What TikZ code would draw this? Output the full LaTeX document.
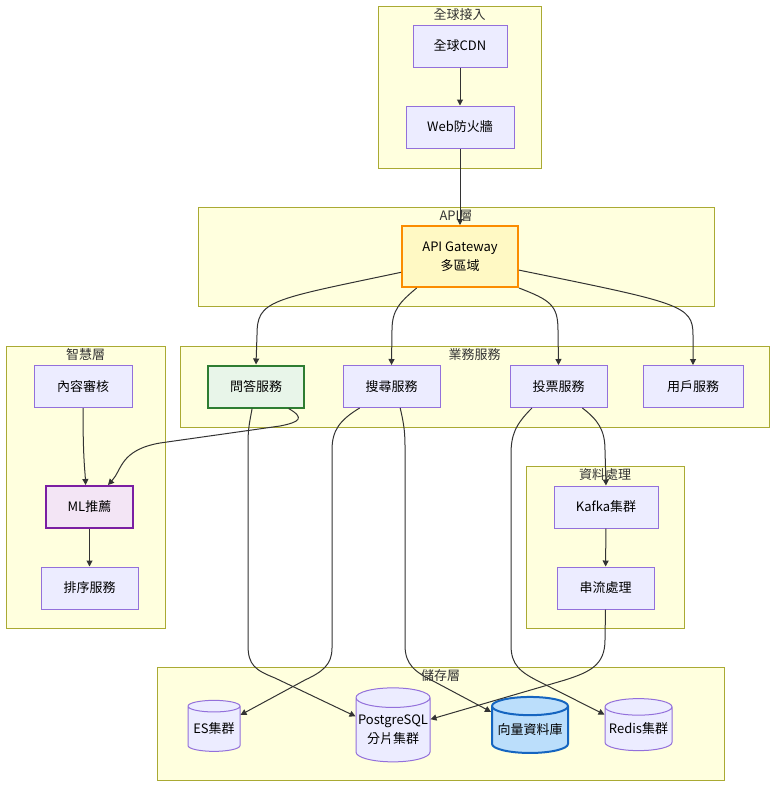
\documentclass[tikz,border=0pt]{standalone}
\usepackage{fontspec}
\setmainfont{Noto Sans CJK TC}
\definecolor{CLF}{HTML}{FFFFDE}
\definecolor{CLD}{HTML}{AAAA33}
\definecolor{NDF}{HTML}{ECECFF}
\definecolor{NDD}{HTML}{9370DB}
\definecolor{EDG}{HTML}{333333}
\definecolor{GWF}{HTML}{FFF9C4}
\definecolor{GWD}{HTML}{FB8C00}
\definecolor{QAF}{HTML}{E8F5E9}
\definecolor{QAD}{HTML}{2E7D32}
\definecolor{MLF}{HTML}{F3E5F5}
\definecolor{MLD}{HTML}{7B1FA2}
\definecolor{VCF}{HTML}{BBDEFB}
\definecolor{VCD}{HTML}{1565C0}
\usetikzlibrary{shapes.geometric,arrows.meta}

\tikzset{
  cluster/.style={draw=CLD,fill=CLF,line width=1pt,inner sep=0pt},
  title/.style={anchor=north,yshift=-3pt,inner sep=0pt,text=EDG},
  box/.style={draw=NDD,fill=NDF,line width=1pt,minimum height=42,inner sep=0pt,text=black},
  db/.style={cylinder,shape border rotate=90,aspect=0.28,draw=NDD,fill=NDF,line width=1pt,
             inner sep=0pt,align=center,text=black},
}

\begin{document}
\begin{tikzpicture}[x=1pt,y=-1pt,font=\fontsize{13}{19}\selectfont]
            \fill[white] (0,0) rectangle (784,796);
            \useasboundingbox (0,0) rectangle (784,796);

            % groups
            \node[cluster,minimum width=163,minimum height=162] (access) at (459.5,87) {};
            \node[title] at (access.north) {全球接入};
            \node[cluster,minimum width=516,minimum height=99] (apilayer) at (456,256.5) {};
            \node[title] at (apilayer.north) {API層};
            \node[cluster,minimum width=589,minimum height=81] (business) at (474.5,386.5) {};
            \node[title] at (business.north) {業務服務};
            \node[cluster,minimum width=159,minimum height=282] (smart) at (85.5,487) {};
            \node[title] at (smart.north) {智慧層};
            \node[cluster,minimum width=158,minimum height=162] (dataproc) at (605,547) {};
            \node[title] at (dataproc.north) {資料處理};
            \node[cluster,minimum width=567,minimum height=113] (storage) at (440.5,723.5) {};
            \node[title] at (storage.north) {儲存層};

            % services
            \node[box,minimum width=94] (cdn) at (460,46) {全球CDN};
            \node[box,minimum width=108] (waf) at (460,127) {Web防火牆};
            \node[box,minimum width=116,minimum height=61,draw=GWD,fill=GWF,line width=2pt,
                  align=center] (gw) at (460,256.5) {API Gateway\\多區域};
            \node[box,minimum width=96,draw=QAD,fill=QAF,line width=2pt] (qa) at (256,386.5) {問答服務};
            \node[box,minimum width=97] (search) at (391.5,386.5) {搜尋服務};
            \node[box,minimum width=97] (vote) at (558.5,386.5) {投票服務};
            \node[box,minimum width=100] (user) at (693,386.5) {用戶服務};
            \node[box,minimum width=98] (review) at (83,386.5) {內容審核};
            \node[box,minimum width=87,draw=MLD,fill=MLF,line width=2pt] (ml) at (89.5,507) {ML推薦};
            \node[box,minimum width=97] (rank) at (89.5,588) {排序服務};
            \node[box,minimum width=104] (kafka) at (606,507) {Kafka集群};
            \node[box,minimum width=97] (stream) at (605.5,588) {串流處理};

            % databases
            \node[db,minimum width=52,minimum height=51] (es) at (214,729) {ES集群};
            \node[db,minimum width=74,minimum height=74] (pg) at (393,730) {PostgreSQL\\分片集群};
            \node[db,minimum width=76,minimum height=56,draw=VCD,fill=VCF,line width=2pt] (vec) at (530,730) {向量資料庫};
            \node[db,minimum width=67,minimum height=52] (redis) at (638.5,729) {Redis集群};

            \begin{scope}[every path/.append style={draw=EDG,line width=1pt,-{Triangle[length=6pt,width=6pt]}}]
              \draw (cdn) -- (waf);
              \draw (waf) -- (gw);
              \draw (gw.195) .. controls (270,300) and (257,300) .. (257,335) -- (qa.north);
              \draw (gw.216) .. controls (400,302) and (392,310) .. (392,330) -- (search.north);
              \draw (gw.south east) .. controls (550,300) and (558,305) .. (558,330) -- (vote.north);
              \draw (gw.347) .. controls (680,303) and (693,305) .. (693,335) -- (user.north);

              \draw (review.south) .. controls (83,460) and (85,470) .. (ml.100);
              \draw (qa.326) .. controls (305,418) and (300,422) .. (280,426) -- (160,443)
                    .. controls (120,450) and (122,470) .. (ml.50);
              \draw (ml) -- (rank);

              \draw (qa.260) .. controls (249,425) and (248,430) .. (248,445) -- (248,645)
                    .. controls (248,665) and (255,670) .. (275,678) -- (pg.160);
              \draw (search.214) .. controls (340,420) and (332,430) .. (332,450) -- (332,648)
                    .. controls (332,665) and (322,672) .. (305,680) -- (es.28);
              \draw (search.292) .. controls (403,420) and (405,430) .. (405,445) -- (405,645)
                    .. controls (405,665) and (415,672) .. (435,682) -- (vec.155);
              \draw (vote.219) .. controls (515,425) and (511,435) .. (511,455) -- (511,645)
                    .. controls (511,665) and (520,672) .. (540,682) -- (redis.157);
              \draw (vote.318) .. controls (598,420) and (605,430) .. (605,450) -- (kafka.north);
              \draw (kafka) -- (stream);
              \draw (stream.south) -- (605,640) .. controls (605,665) and (590,672) .. (565,680) -- (pg.16);
            \end{scope}
        \end{tikzpicture}
\end{document}
